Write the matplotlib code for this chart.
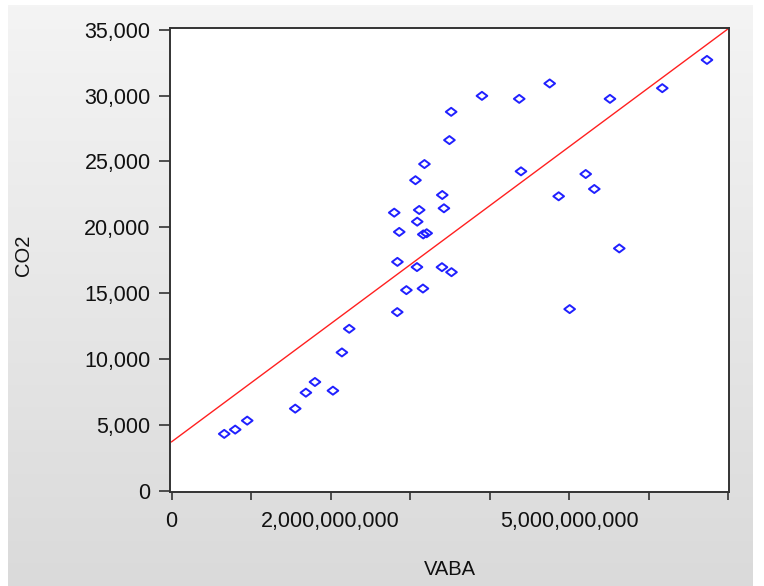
import numpy as np
import matplotlib
matplotlib.use("Agg")
import matplotlib.pyplot as plt
from matplotlib.path import Path

# VABA (value added) vs CO2
vaba = np.array([0.662, 0.800, 0.951, 1.555, 1.689, 1.803, 2.029, 2.142, 2.234,
                 2.800, 2.863, 2.840, 2.838, 2.953,
                 3.067, 3.089, 3.114, 3.086, 3.165, 3.208, 3.180, 3.161,
                 3.404, 3.425, 3.400, 3.494, 3.516, 3.520,
                 3.903, 4.372, 4.394, 4.755, 4.868, 5.006,
                 5.208, 5.316, 5.513, 5.630, 6.171, 6.733]) * 1e9
co2 = np.array([4345, 4670, 5351, 6260, 7471, 8281, 7622, 10521, 12315,
                21118, 19657, 17386, 13579, 15244,
                23578, 20436, 21322, 16993, 19468, 19558, 24803, 15365,
                22457, 21450, 16985, 26620, 28762, 16606,
                29973, 29746, 24251, 30912, 22359, 13806,
                24047, 22912, 29746, 18408, 30556, 32698])

x_ticks = np.arange(0, 8) * 1e9
x_ticklabels = ['0', '', '2,000,000,000', '', '', '5,000,000,000', '', '']
y_ticks = np.arange(0, 35001, 5000)
y_ticklabels = ['0', '5,000', '10,000', '15,000', '20,000', '25,000', '30,000', '35,000']

plt.rcParams['font.family'] = ['Liberation Sans', 'DejaVu Sans']
text_col = '#111111'

fig = plt.figure(figsize=(7.64, 5.86), dpi=100, facecolor='white')

# grey gradient panel behind the plot
bg = fig.add_axes([8 / 764, 0, 745 / 764, 581 / 586], zorder=0)
grad = np.linspace(0.957, 0.855, 256).reshape(-1, 1)
bg.imshow(np.dstack([grad, grad, grad]), aspect='auto', extent=[0, 1, 0, 1])
bg.set_axis_off()

ax = fig.add_axes([170 / 764, (586 - 492) / 586, 559 / 764, 463.5 / 586], zorder=1)
ax.set_facecolor('white')

# flat open diamond like the EViews marker
diamond = Path([(-1, 0), (0, 0.75), (1, 0), (0, -0.75), (-1, 0)],
               [Path.MOVETO, Path.LINETO, Path.LINETO, Path.LINETO, Path.CLOSEPOLY])
ax.scatter(vaba, co2, marker=diamond, s=60, facecolors='none',
           edgecolors='#2020ff', linewidths=1.4, zorder=3)

# OLS line
b, a = np.polyfit(vaba, co2, 1)
xl = np.array([0, 7e9])
ax.plot(xl, a + b * xl, color='#ff2020', lw=1.0, zorder=2)

ax.set_xlim(-0.02e9, 7.01e9)
ax.set_ylim(-60, 35080)
ax.set_xticks(x_ticks)
ax.set_xticklabels(x_ticklabels)
ax.set_yticks(y_ticks)
ax.set_yticklabels(y_ticklabels)

for s in ax.spines.values():
    s.set_color('#333333')
    s.set_linewidth(1.4)
ax.tick_params(axis='x', direction='out', length=6, width=1.2, pad=8,
               labelsize=15.5, colors='#333333', labelcolor=text_col)
ax.tick_params(axis='y', direction='out', length=8, width=1.2, pad=6,
               labelsize=15.5, colors='#333333', labelcolor=text_col)

ax.set_xlabel('VABA', fontsize=14.5, color=text_col)
ax.set_ylabel('CO2', fontsize=14.5, color=text_col)
ax.xaxis.set_label_coords(0.5, -0.147)
ax.yaxis.set_label_coords(-0.245, 0.51)

fig.savefig('out.png', dpi=100, facecolor=fig.get_facecolor())
